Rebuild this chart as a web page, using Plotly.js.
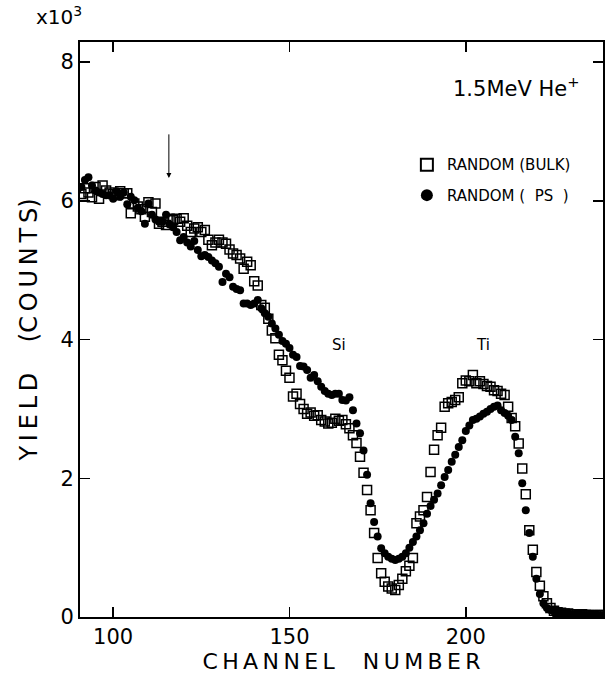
<!DOCTYPE html>
<html><head><meta charset="utf-8">
<script src="https://cdn.plot.ly/plotly-3.0.1.min.js"></script>
<style>body{margin:0;background:#fff}</style>
</head><body><div id="chart" style="width:609px;height:677px"></div>
<script>
const channels = [91,92,93,94,95,96,97,98,99,100,101,102,103,104,105,106,107,108,109,110,
111,112,113,114,115,116,117,118,119,120,121,122,123,124,125,126,127,128,129,130,
131,132,133,134,135,136,137,138,139,140,141,142,143,144,145,146,147,148,149,150,
151,152,153,154,155,156,157,158,159,160,161,162,163,164,165,166,167,168,169,170,
171,172,173,174,175,176,177,178,179,180,181,182,183,184,185,186,187,188,189,190,
191,192,193,194,195,196,197,198,199,200,201,202,203,204,205,206,207,208,209,210,
211,212,213,214,215,216,217,218,219,220,221,222,223,224,225,226,227,228,229,230,
231,232,233,234,235,236,237,238,239];
// yield in units of 10^3 counts
const bulkYield = [6.10,6.18,6.12,6.05,6.20,6.03,6.22,6.15,6.12,6.10,
6.08,6.14,6.11,6.11,5.82,5.96,5.92,5.88,5.77,5.98,
5.84,5.96,5.67,5.70,5.65,5.74,5.72,5.74,5.70,5.75,
5.64,5.55,5.60,5.62,5.55,5.58,5.44,5.36,5.40,5.44,
5.40,5.38,5.30,5.24,5.22,5.17,5.02,5.12,5.07,4.84,
4.78,4.50,4.46,4.30,4.13,4.02,3.78,3.70,3.55,3.45,
3.18,3.22,3.07,3.00,2.93,2.95,2.90,2.91,2.84,2.82,
2.79,2.80,2.86,2.83,2.84,2.78,2.72,2.62,2.51,2.31,
2.08,1.83,1.54,1.21,0.85,0.63,0.51,0.44,0.41,0.39,
0.46,0.55,0.66,0.74,0.85,1.35,1.45,1.54,1.73,2.09,
2.41,2.62,2.73,3.03,3.08,3.10,3.13,3.17,3.37,3.41,
3.40,3.49,3.37,3.40,3.36,3.33,3.32,3.27,3.26,3.22,
3.20,3.03,2.87,2.75,2.50,2.14,1.77,1.25,0.97,0.65,
0.45,0.30,0.20,0.13,0.09,0.07,0.06,0.05,0.05,0.04,
0.04,0.03,0.04,0.03,0.03,0.03,0.02,0.03,0.03];
const psYield = [6.20,6.30,6.34,6.22,6.15,6.12,6.10,6.08,6.08,6.03,
6.14,6.06,6.12,5.95,6.06,6.01,5.90,5.85,5.67,5.96,
5.80,5.73,5.70,5.70,5.80,5.66,5.62,5.55,5.43,5.48,
5.40,5.34,5.42,5.29,5.20,5.22,5.19,5.14,5.10,5.05,
4.83,4.95,4.90,4.76,4.73,4.71,4.52,4.52,4.50,4.52,
4.57,4.45,4.38,4.33,4.23,4.16,4.07,3.98,3.94,3.88,
3.78,3.75,3.62,3.61,3.56,3.45,3.49,3.40,3.32,3.26,
3.22,3.20,3.22,3.22,3.13,3.12,3.17,2.98,2.79,2.65,
2.40,2.05,1.64,1.37,1.16,0.99,0.92,0.87,0.84,0.82,
0.84,0.87,0.92,1.00,1.08,1.16,1.25,1.35,1.49,1.60,
1.69,1.78,1.90,2.02,2.12,2.24,2.34,2.45,2.55,2.68,
2.76,2.84,2.86,2.89,2.93,2.96,3.00,3.03,3.05,2.98,
2.94,2.90,2.84,2.60,2.36,1.93,1.54,1.21,0.87,0.55,
0.33,0.20,0.13,0.10,0.08,0.07,0.06,0.05,0.05,0.04,
0.04,0.04,0.03,0.03,0.03,0.03,0.03,0.02,0.03];
const xTicks = [100,150,200];
const yTicks = [0,2,4,6,8];
const bulkName = 'RANDOM (BULK)';
const psName = 'RANDOM (\u00a0\u00a0PS\u00a0\u00a0)';
const xTitle = 'C\u2009H\u2009A\u2009N\u2009N\u2009E\u2009L\u00a0\u00a0\u00a0\u00a0N\u2009U\u2009M\u2009B\u2009E\u2009R';
const yTitle = 'Y\u2009I\u2009E\u2009L\u2009D\u00a0\u00a0\u00a0\u00a0(C\u2009O\u2009U\u2009N\u2009T\u2009S)';

const FONT = 'DejaVu Sans, Liberation Sans, sans-serif';

const traces = [
  {x: channels, y: psYield, name: psName, type: 'scatter', mode: 'markers',
   legendgroup: 'b', legendrank: 2,
   marker: {symbol: 'circle', size: 8, color: '#000', line: {width: 0}}},
  {x: channels, y: bulkYield, name: bulkName, type: 'scatter', mode: 'markers',
   legendgroup: 'a', legendrank: 1,
   marker: {symbol: 'square-open', size: 9, color: '#000', line: {width: 1.5, color: '#000'}}}
];

const axisCommon = {
  showgrid: false, zeroline: false, showline: true, linecolor: '#000', linewidth: 2,
  mirror: 'ticks', ticks: 'inside', ticklen: 10, tickwidth: 1.5, tickcolor: '#000',
  tickfont: {family: FONT, size: 21, color: '#000'}
};

const layout = {
  width: 609, height: 677,
  margin: {l: 80, r: 6, t: 42, b: 60},
  paper_bgcolor: '#fff', plot_bgcolor: '#fff',
  font: {family: FONT, color: '#000'},
  xaxis: Object.assign({}, axisCommon, {
    range: [90.6, 238.9], tickvals: xTicks, ticktext: xTicks.map(String),
    title: {text: xTitle, font: {family: FONT, size: 22, color: '#000'}, standoff: 4}
  }),
  yaxis: Object.assign({}, axisCommon, {
    range: [0, 8.29], tickvals: yTicks, ticktext: yTicks.map(String),
    title: {text: yTitle, font: {family: FONT, size: 24, color: '#000'}, standoff: 16}
  }),
  showlegend: true,
  legend: {x: 0.625, xanchor: 'left', y: 0.815, yanchor: 'top', bgcolor: 'rgba(0,0,0,0)',
    font: {family: FONT, size: 15, color: '#000'}, traceorder: 'grouped', tracegroupgap: 8,
    itemsizing: 'constant', itemwidth: 30},
  annotations: [
    {xref: 'paper', yref: 'paper', x: -0.04, y: 1.045, xanchor: 'center', yanchor: 'middle',
     text: 'x10<sup>3</sup>', showarrow: false, font: {family: FONT, size: 20}},
    {xref: 'paper', yref: 'paper', x: 0.96, y: 0.922, xanchor: 'right', yanchor: 'middle',
     text: '1.5MeV He<sup>+</sup>', showarrow: false, font: {family: FONT, size: 21}},
    {xref: 'x', yref: 'y', x: 163.9, y: 3.92, text: 'Si', showarrow: false,
     font: {family: FONT, size: 15}},
    {xref: 'x', yref: 'y', x: 204.8, y: 3.92, text: 'Ti', showarrow: false,
     font: {family: FONT, size: 15}},
    {xref: 'x', yref: 'y', x: 115.8, y: 6.33, axref: 'x', ayref: 'y', ax: 115.8, ay: 6.98,
     text: '', showarrow: true, arrowhead: 2, arrowsize: 1, arrowwidth: 1, arrowcolor: '#000'}
  ]
};

Plotly.newPlot('chart', traces, layout, {staticPlot: true, displayModeBar: false});
</script>
</body></html>
